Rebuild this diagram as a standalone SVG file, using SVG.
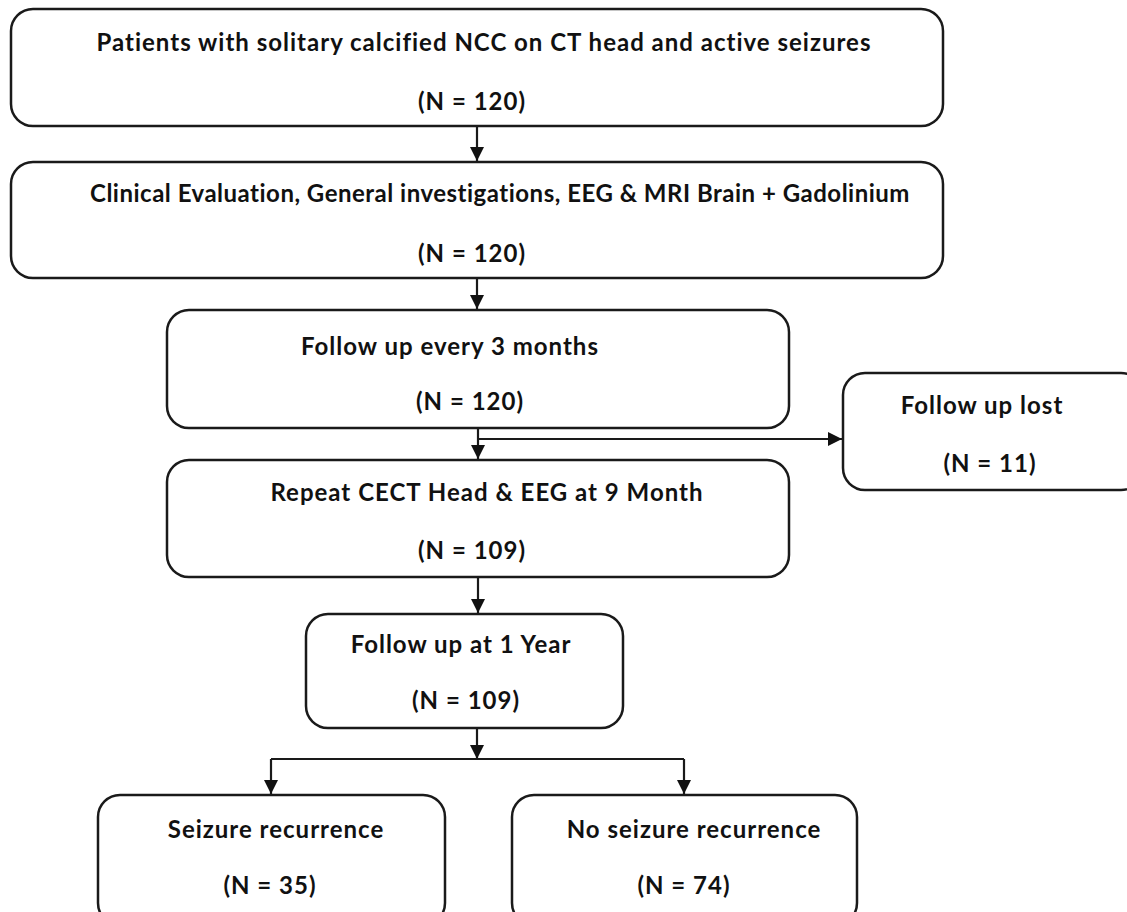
<svg xmlns="http://www.w3.org/2000/svg" width="1127" height="912" viewBox="0 0 1127 912">
<defs>
<style>
.box{fill:#fff;stroke:#1a1a1a;stroke-width:2.5}
.t{font-family:Lato,"Open Sans","Liberation Sans",sans-serif;font-weight:700;font-size:24px;letter-spacing:1px;fill:#111;text-anchor:middle}
.c{fill:none;stroke:#1a1a1a;stroke-width:2.2}
</style>
<marker id="ah" markerUnits="userSpaceOnUse" markerWidth="14" markerHeight="16" refX="14" refY="7" orient="auto">
<path d="M0,0 L14,7 L0,14 Z" fill="#111"/>
</marker>
</defs>
<rect width="1127" height="912" fill="#fff"/>
<g id="n1"><rect class="box" x="11" y="9" width="932" height="117" rx="22"/>
<text class="t" x="484" y="51">Patients with solitary calcified NCC on CT head and active seizures</text>
<text class="t" x="472" y="110">(N = 120)</text></g>
<g id="n2"><rect class="box" x="11" y="162" width="932" height="116" rx="22"/>
<text class="t" x="500" y="202" style="letter-spacing:0.5px">Clinical Evaluation, General investigations, EEG &amp; MRI Brain + Gadolinium</text>
<text class="t" x="472" y="262">(N = 120)</text></g>
<g id="n3"><rect class="box" x="167" y="310" width="622" height="118" rx="22"/>
<text class="t" x="450" y="355">Follow up every 3 months</text>
<text class="t" x="470" y="410">(N = 120)</text></g>
<g id="n4"><rect class="box" x="843" y="373" width="300" height="117" rx="22"/>
<text class="t" x="982" y="414">Follow up lost</text>
<text class="t" x="990" y="472">(N = 11)</text></g>
<g id="n5"><rect class="box" x="167" y="460" width="622" height="117" rx="22"/>
<text class="t" x="487" y="501">Repeat CECT Head &amp; EEG at 9 Month</text>
<text class="t" x="472" y="559">(N = 109)</text></g>
<g id="n6"><rect class="box" x="306" y="614" width="317" height="114" rx="22"/>
<text class="t" x="461" y="653">Follow up at 1 Year</text>
<text class="t" x="466" y="709">(N = 109)</text></g>
<g id="n7"><rect class="box" x="98" y="795" width="347" height="130" rx="22"/>
<text class="t" x="276" y="838">Seizure recurrence</text>
<text class="t" x="270" y="894">(N = 35)</text></g>
<g id="n8"><rect class="box" x="512" y="795" width="345" height="130" rx="22"/>
<text class="t" x="694" y="838">No seizure recurrence</text>
<text class="t" x="684" y="894">(N = 74)</text></g>
<g id="connectors">
<line class="c" x1="477" y1="126" x2="477" y2="161" marker-end="url(#ah)"/>
<line class="c" x1="477" y1="278" x2="477" y2="309" marker-end="url(#ah)"/>
<line class="c" x1="478" y1="428" x2="478" y2="459" marker-end="url(#ah)"/>
<line class="c" x1="478" y1="439" x2="842" y2="439" marker-end="url(#ah)"/>
<line class="c" x1="478" y1="577" x2="478" y2="613" marker-end="url(#ah)"/>
<line class="c" x1="477" y1="728" x2="477" y2="759" marker-end="url(#ah)"/>
<polyline class="c" points="271,759 684,759"/>
<line class="c" x1="271" y1="759" x2="271" y2="794" marker-end="url(#ah)"/>
<line class="c" x1="684" y1="759" x2="684" y2="794" marker-end="url(#ah)"/>
</g>
</svg>
